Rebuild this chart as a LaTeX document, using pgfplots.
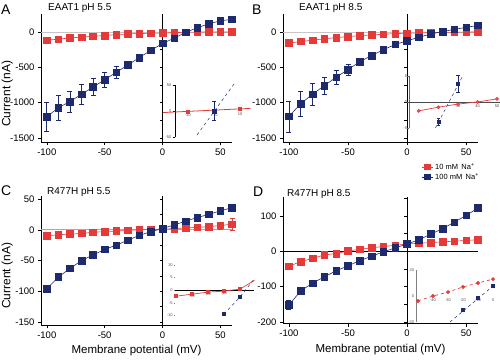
\documentclass[border=0pt]{standalone}
\usepackage{fontspec}
\setmainfont{Liberation Sans}
\usepackage{pgfplots}
\pgfplotsset{compat=1.18}
\definecolor{nblue}{HTML}{1E2A6E}
\definecolor{nred}{HTML}{E53A3A}
\tikzset{tl/.style={font=\fontsize{4}{4}\selectfont, text=black!70, inner sep=0.8pt}}
\pgfplotsset{
  mainax/.style={scale only axis, clip=false, anchor=south west,
    axis x line*=bottom, axis y line*=left,
    axis line style={black, line width=0.5pt},
    xmin=-105, xmax=60, xtick={-100,-50,0,50},
    tick align=outside, major tick length=3pt, tick style={black, line width=0.5pt},
    ticklabel style={font=\fontsize{9.5}{10}\selectfont},
    /pgf/number format/assume math mode=true,
    /pgf/number format/1000 sep={},
    xlabel style={font=\fontsize{11.5}{13}\selectfont},
    ylabel style={font=\fontsize{12}{13}\selectfont, at={(axis description cs:-0.207,0.38)}, anchor=north, inner sep=0pt},
  },
  bl/.style={color=nblue, line width=0.6pt, mark=square*, mark size=3.3pt, mark options={solid, fill=nblue}},
  rd/.style={color=nred, line width=0.6pt, mark=square*, mark size=3.3pt, mark options={solid, fill=nred}},
  eb/.style={error bars/y dir=both, error bars/y explicit, error bars/error bar style={line width=0.6pt}, error bars/error mark options={rotate=90, mark size=2.5pt, line width=0.6pt}},
  inset/.style={scale only axis, clip=false, axis lines=none, anchor=south west},
}
\begin{document}
\begin{tikzpicture}
\useasboundingbox (0pt,0pt) rectangle (500pt,362pt);
% panel letters and titles
\node[font=\fontsize{14}{14}\selectfont, anchor=west, inner sep=0pt] at (1pt,352pt) {A};
\node[font=\fontsize{14}{14}\selectfont, anchor=west, inner sep=0pt] at (252pt,352pt) {B};
\node[font=\fontsize{14}{14}\selectfont, anchor=west, inner sep=0pt] at (1pt,171pt) {C};
\node[font=\fontsize{14}{14}\selectfont, anchor=west, inner sep=0pt] at (253pt,170pt) {D};
\node[font=\fontsize{10}{10}\selectfont, anchor=west, inner sep=0pt] at (48pt,354pt) {EAAT1 pH 5.5};
\node[font=\fontsize{10}{10}\selectfont, anchor=west, inner sep=0pt] at (299pt,354pt) {EAAT1 pH 8.5};
\node[font=\fontsize{10}{10}\selectfont, anchor=west, inner sep=0pt] at (47pt,170pt) {R477H pH 5.5};
\node[font=\fontsize{10}{10}\selectfont, anchor=west, inner sep=0pt] at (287pt,168pt) {R477H pH 8.5};

% ---------------- Panel A
\begin{axis}[mainax, at={(41pt,219.7pt)}, width=191pt, height=128pt,
  ymin=-1560, ymax=250, ytick={-1500,-1000,-500,0}, ylabel={Current (nA)}]
\draw[gray!45, line width=0.6pt] (axis cs:-105,0) -- (axis cs:60,0);
\draw[black, line width=0.5pt] (axis cs:0,-1560) -- (axis cs:0,250);
\pgfplotsinvokeforeach{-1500,-1250,-1000,-750,-500,-250,0}{\draw[black, line width=0.5pt] (axis cs:0,#1) -- ([xshift=-3pt]axis cs:0,#1);}
\addplot[rd] coordinates {(-100,-116)(-90,-102)(-80,-83)(-70,-74)(-60,-60)(-50,-51)(-40,-37)(-30,-28)(-20,-23)(-10,-18)(0,-14)(10,-9)(20,-5)(30,0)(40,0)(50,0)(60,0)};
\addplot[bl, eb] coordinates {(-100,-1200)+-(0,200) (-90,-1070)+-(0,180) (-80,-985)+-(0,150) (-70,-880)+-(0,140) (-60,-778)+-(0,120) (-50,-676)+-(0,100) (-40,-570)+-(0,80) (-30,-468)+-(0,50) (-20,-361)+-(0,20) (-10,-259)+-(0,15) (0,-162)+-(0,10) (10,-88)+-(0,10) (20,-5)+-(0,8) (30,60)+-(0,8) (40,116)+-(0,8) (50,157)+-(0,8) (60,180)+-(0,8)};
\end{axis}
% inset A
\begin{axis}[inset, at={(162pt,225pt)}, width=88.4pt, height=52pt, xmin=-20, xmax=14, ymin=-50, ymax=50]
\draw[black, line width=0.9pt] (axis cs:-15,-50) -- (axis cs:-15,50);
\pgfplotsinvokeforeach{-50,0,50}{\draw[black, line width=0.4pt] (axis cs:-15,#1) -- ([xshift=-2pt]axis cs:-15,#1);}
\node[tl, anchor=east] at (axis cs:-16,50) {50};
\node[tl, anchor=east] at (axis cs:-16,0) {0};
\node[tl, anchor=east] at (axis cs:-16,-50) {-50};
\addplot[nred, line width=0.8pt, no marks] coordinates {(-19.6,-3)(14,5)};
\addplot[nred, only marks, mark=square*, mark size=1.5pt] coordinates {(-10,-1)(0,1)(10,3.5)};
\node[tl, below] at (axis cs:-10,-4) {-10};
\node[tl, below] at (axis cs:1,-3) {0};
\node[tl, below] at (axis cs:10,-1) {10};
\addplot[nblue, dashed, line width=0.5pt] coordinates {(-6.5,-46)(8,54)};
\addplot[nblue, only marks, mark=square*, mark size=1.8pt, error bars/y dir=both, error bars/y explicit] coordinates {(0,0) +- (0,18)};
\end{axis}

% ---------------- Panel B
\begin{axis}[mainax, at={(283pt,219.7pt)}, width=195pt, height=128pt,
  ymin=-1560, ymax=250, ytick={-1500,-1000,-500,0},
  legend image code/.code={\draw[mark repeat=2,mark phase=2] plot coordinates {(0cm,0cm)(0.2cm,0cm)(0.4cm,0cm)};},
  legend style={at={(0.708,-0.146)}, anchor=north west, draw=none, fill=none, font=\fontsize{7.5}{8}\selectfont, row sep=-1.5pt, inner sep=0pt},
  legend cell align=left]
\draw[gray!45, line width=0.6pt] (axis cs:-105,0) -- (axis cs:60,0);
\draw[black, line width=0.5pt] (axis cs:0,-1560) -- (axis cs:0,250);
\pgfplotsinvokeforeach{-1500,-1250,-1000,-750,-500,-250,0}{\draw[black, line width=0.5pt] (axis cs:0,#1) -- ([xshift=-3pt]axis cs:0,#1);}
\addplot[rd, forget plot] coordinates {(-100,-157)(-90,-134)(-80,-116)(-70,-97)(-60,-79)(-50,-65)(-40,-51)(-30,-42)(-20,-32)(-10,-23)(0,-18)(10,-14)(20,-9)(30,-5)(40,-5)(50,0)(60,0)};
\addplot[bl, eb, forget plot] coordinates {(-100,-1194)+-(0,220) (-90,-1014)+-(0,180) (-80,-880)+-(0,150) (-70,-759)+-(0,120) (-60,-639)+-(0,100) (-50,-532)+-(0,80) (-40,-421)+-(0,50) (-30,-333)+-(0,20) (-20,-250)+-(0,15) (-10,-176)+-(0,10) (0,-125)+-(0,10) (10,-74)+-(0,8) (20,-28)+-(0,8) (30,5)+-(0,8) (40,37)+-(0,8) (50,65)+-(0,8) (60,93)+-(0,8)};
\addlegendimage{rd, mark size=2.6pt}
\addlegendentry{10 mM\, Na\textsuperscript{+}}
\addlegendimage{bl, mark size=2.6pt}
\addlegendentry{100 mM\, Na\textsuperscript{+}}
\end{axis}
% inset B
\begin{axis}[inset, at={(409pt,234pt)}, width=92pt, height=52pt, xmin=5, xmax=52, ymin=-5, ymax=5]
\draw[black!60, line width=0.4pt] (axis cs:5,-5) -- (axis cs:5,5);
\draw[black!70, line width=0.5pt] (axis cs:5,0) -- (axis cs:52,0);
\pgfplotsinvokeforeach{-5,0,5}{\draw[black!60, line width=0.4pt] (axis cs:5,#1) -- ([xshift=-2pt]axis cs:5,#1);}
\node[tl, anchor=east] at (axis cs:4.5,5) {5};
\node[tl, anchor=east] at (axis cs:4.5,0) {0};
\node[tl, anchor=east] at (axis cs:4.5,-5) {-5};
\node[tl, below] at (axis cs:30,-0.3) {30};
\node[tl, below] at (axis cs:40,-0.3) {40};
\node[tl, below] at (axis cs:50,-0.3) {50};
\addplot[nred, line width=0.7pt, mark=*, mark size=1.5pt, mark options={fill=nred!80}] coordinates {(10,-1.7)(20,-1.0)(30,-0.4)(40,0)(50,0.6)};
\addplot[nblue, dashed, line width=0.5pt] coordinates {(18.5,-5)(32.4,5)};
\addplot[nblue, only marks, mark=square*, mark size=1.6pt, error bars/y dir=both, error bars/y explicit] coordinates {(20,-3.8) +- (0,0.6) (30,3.5) +- (0,1.6)};
\end{axis}

% ---------------- Panel C
\begin{axis}[mainax, at={(41pt,37pt)}, width=191pt, height=129pt,
  ymin=-155, ymax=55, ytick={-150,-100,-50,0,50}, ylabel={Current (nA)}, xlabel={Membrane potential (mV)}]
\draw[nred!60, line width=0.6pt] (axis cs:-105,0) -- (axis cs:60,0);
\draw[black, line width=0.5pt] (axis cs:0,-155) -- (axis cs:0,55);
\pgfplotsinvokeforeach{-150,-125,-100,-75,-50,-25,0,25,50}{\draw[black, line width=0.5pt] (axis cs:0,#1) -- ([xshift=-3pt]axis cs:0,#1);}
\addplot[rd, eb] coordinates {(-100,-10)+-(0,1) (-90,-8)+-(0,1) (-80,-7)+-(0,1) (-70,-6)+-(0,1) (-60,-4)+-(0,1) (-50,-3)+-(0,1) (-40,-2)+-(0,1) (-30,-1)+-(0,1) (-20,0)+-(0,1) (-10,0.5)+-(0,1) (0,1)+-(0,1) (10,2)+-(0,1) (20,3)+-(0,1) (30,4)+-(0,2) (40,5)+-(0,3) (50,7)+-(0,6) (60,9)+-(0,10)};
\addplot[bl] coordinates {(-100,-96)(-90,-77)(-80,-63)(-70,-50)(-60,-41)(-50,-32)(-40,-25)(-30,-17)(-20,-9)(-10,-3)(0,2)(10,8)(20,14)(30,20)(40,25)(50,31)(60,36)};
\end{axis}
% inset C
\begin{axis}[inset, at={(172.8pt,41.4pt)}, width=81.6pt, height=61pt, xmin=-42, xmax=9, ymin=-12, ymax=12]
\draw[black, line width=0.8pt] (axis cs:-41,0) -- (axis cs:9,0);
\pgfplotsinvokeforeach{-10,-5,0,5,10}{\draw[black!50, line width=0.3pt] (axis cs:-40.5,#1) -- ([xshift=-1.5pt]axis cs:-40.5,#1); \node[tl, anchor=east] at (axis cs:-41.5,#1) {#1};}
\node[tl, below] at (axis cs:-30,-1.6) {-30};
\node[tl, below] at (axis cs:-20,-0.8) {-20};
\node[tl, below] at (axis cs:-10,-0.4) {-10};
\addplot[nred, line width=0.7pt, mark=square*, mark size=1.4pt, mark options={fill=nred}] coordinates {(-40,-2.4)(-30,-1.6)(-20,-0.8)(-10,-0.4)(0,0.4)};
\addplot[nred, line width=0.7pt, no marks] coordinates {(0,0.4)(9,3.8)};
\addplot[nblue, dashed, line width=0.5pt] coordinates {(-10,-9.4)(0,-2.7)(9,4.5)};
\addplot[nblue, only marks, mark=square*, mark size=1.6pt] coordinates {(-10,-9.4)(0,-2.7)};
\end{axis}

% ---------------- Panel D
\begin{axis}[mainax, at={(283pt,38.3pt)}, width=195pt, height=127pt,
  ymin=-205, ymax=155, ytick={-200,-100,0,100}, xlabel={Membrane potential (mV)}]
\draw[black, line width=1pt] (axis cs:-105,0) -- (axis cs:60,0);
\draw[black, line width=0.5pt] (axis cs:0,-205) -- (axis cs:0,155);
\pgfplotsinvokeforeach{-200,-150,-100,-50,0,50,100,150}{\draw[black, line width=0.5pt] (axis cs:0,#1) -- ([xshift=-3pt]axis cs:0,#1);}
\addplot[rd] coordinates {(-100,-42)(-90,-29)(-80,-20)(-70,-10)(-60,-6)(-50,1)(-40,6)(-30,10)(-20,14)(-10,17)(0,21)(10,23)(20,25)(30,27)(40,29)(50,31)(60,33)};
\addplot[bl, eb] coordinates {(-100,-152)+-(0,13) (-90,-112)+-(0,9) (-80,-90)+-(0,4) (-70,-72)+-(0,3) (-60,-55)+-(0,3) (-50,-41)+-(0,2) (-40,-26)+-(0,2) (-30,-14)+-(0,4) (-20,-1)+-(0,2) (-10,10)+-(0,2) (0,21)+-(0,2) (10,33)+-(0,2) (20,49)+-(0,2) (30,64)+-(0,2) (40,83)+-(0,2) (50,102)+-(0,2) (60,123)+-(0,2)};
\end{axis}
% inset D
\begin{axis}[inset, at={(416.5pt,40pt)}, width=78pt, height=52pt, xmin=-51, xmax=1, ymin=-20, ymax=20]
\draw[gray, line width=1.5pt] (axis cs:-51,-20) -- (axis cs:-51,20);
\pgfplotsinvokeforeach{-20,0,20}{\node[tl, anchor=east] at (axis cs:-52,#1) {#1};}
\pgfplotsinvokeforeach{-40,-30,-20,-10,0}{\node[tl] at (axis cs:#1,-3.5) {#1};}
\addplot[nred, dashed, line width=0.7pt, mark=*, mark size=1.6pt, mark options={solid, fill=nred}] coordinates {(-50,-3.8)(-40,0)(-30,3)(-20,7)(-10,10)(0,13)};
\addplot[nblue, dashed, line width=0.5pt] coordinates {(-28.7,-20)(0,7.7)};
\addplot[nblue, only marks, mark=square*, mark size=1.6pt] coordinates {(-20,-10.8)(-10,-1.5)(0,7.7)};
\end{axis}
\end{tikzpicture}
\end{document}
